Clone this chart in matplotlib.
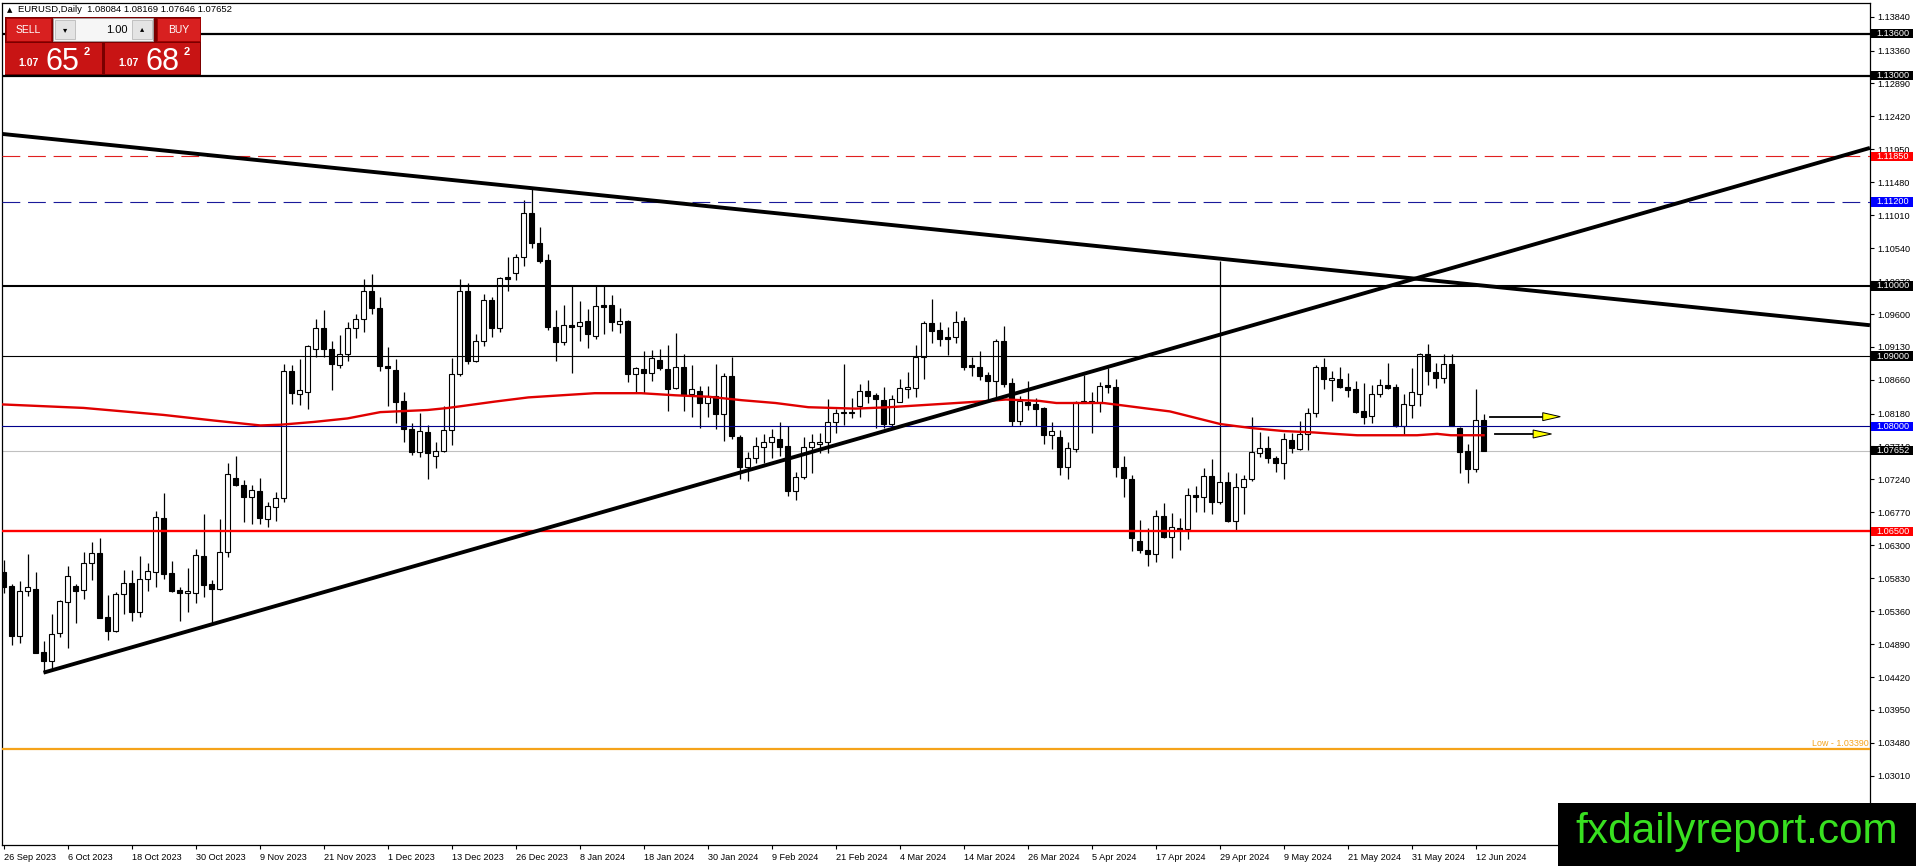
import matplotlib
matplotlib.use("Agg")
import matplotlib.pyplot as plt
import matplotlib.transforms as mtransforms
from matplotlib.patches import Rectangle, Polygon
import numpy as np
import pandas as pd

plt.rcParams['font.family'] = ['Liberation Sans', 'DejaVu Sans']

# 1. Data (EURUSD daily, broker has no Dec 25 / Jan 1 bars)
dates = pd.bdate_range("2023-09-26", "2024-06-13")
dates = dates[~dates.isin(pd.to_datetime(["2023-12-25", "2024-01-01"]))]

opens = [1.05923, 1.05719, 1.05010, 1.05647, 1.05671, 1.04777, 1.04653, 1.05043, 1.05486, 1.05719,
         1.05662, 1.06042, 1.06190, 1.05272, 1.05072, 1.05600, 1.05757, 1.05343, 1.05814, 1.05914,
         1.06684, 1.05900, 1.05662, 1.05614, 1.05624, 1.06147, 1.05742, 1.05671, 1.06208, 1.07255,
         1.07160, 1.06984, 1.07074, 1.06670, 1.06841, 1.06969, 1.08787, 1.08454, 1.08492, 1.09096,
         1.09405, 1.09096, 1.08867, 1.09029, 1.09396, 1.09524, 1.09928, 1.09690, 1.08858, 1.08801,
         1.08359, 1.07959, 1.07626, 1.07920, 1.07574, 1.07645, 1.07945, 1.08739, 1.09928, 1.08934,
         1.09219, 1.09800, 1.09405, 1.10123, 1.10180, 1.10409, 1.11037, 1.10608, 1.10371, 1.09410,
         1.09205, 1.09443, 1.09433, 1.09500, 1.09291, 1.09728, 1.09728, 1.09452, 1.09500, 1.08739,
         1.08810, 1.08753, 1.08944, 1.08815, 1.08539, 1.08839, 1.08458, 1.08501, 1.08325, 1.08435,
         1.08168, 1.08715, 1.07850, 1.07412, 1.07540, 1.07707, 1.07769, 1.07811, 1.07716, 1.07079,
         1.07269, 1.07707, 1.07745, 1.07778, 1.08064, 1.08183, 1.08206, 1.08292, 1.08501, 1.08444,
         1.08372, 1.08025, 1.08349, 1.08534, 1.08548, 1.08981, 1.09476, 1.09371, 1.09267, 1.09267,
         1.09500, 1.08872, 1.08839, 1.08729, 1.08648, 1.09214, 1.08610, 1.08078, 1.08349, 1.08315,
         1.08263, 1.07873, 1.07840, 1.07421, 1.07674, 1.08335, 1.08363, 1.08349, 1.08587, 1.08554,
         1.07412, 1.07245, 1.06360, 1.06232, 1.06170, 1.06717, 1.06422, 1.06541, 1.06532, 1.07017,
         1.06984, 1.07288, 1.06912, 1.07198, 1.06646, 1.07126, 1.07241, 1.07612, 1.07683, 1.07550,
         1.07475, 1.07801, 1.07676, 1.07885, 1.08183, 1.08844, 1.08655, 1.08670, 1.08561, 1.08531,
         1.08213, 1.08139, 1.08457, 1.08586, 1.08561, 1.07999, 1.08298, 1.08462, 1.09033, 1.08770,
         1.08685, 1.08884, 1.07975, 1.07652, 1.07393, 1.08084]
highs = [1.06090, 1.05747, 1.05790, 1.06175, 1.05923, 1.04934, 1.05319, 1.05519, 1.06004, 1.05747,
         1.06199, 1.06342, 1.06399, 1.05590, 1.05628, 1.05947, 1.05947, 1.06147, 1.06042, 1.06789,
         1.07050, 1.06076, 1.05700, 1.05971, 1.06247, 1.06746, 1.05804, 1.06670, 1.07469, 1.07569,
         1.07231, 1.07160, 1.07255, 1.06912, 1.07055, 1.08887, 1.08872, 1.08958, 1.09158, 1.09529,
         1.09657, 1.09219, 1.09300, 1.09491, 1.09595, 1.10099, 1.10171, 1.09838, 1.09134, 1.08953,
         1.08492, 1.08040, 1.08183, 1.08010, 1.07778, 1.08287, 1.08967, 1.10099, 1.10038, 1.09310,
         1.09881, 1.09847, 1.10133, 1.10409, 1.10456, 1.11227, 1.11393, 1.10837, 1.10456, 1.09657,
         1.09728, 1.10004, 1.09785, 1.09667, 1.10004, 1.10004, 1.09871, 1.09690, 1.09515, 1.08848,
         1.09077, 1.09086, 1.09101, 1.09158, 1.09334, 1.09029, 1.08872, 1.08573, 1.08573, 1.08887,
         1.08753, 1.08991, 1.07873, 1.07635, 1.07840, 1.07883, 1.07959, 1.08054, 1.08002, 1.07350,
         1.07850, 1.07883, 1.07907, 1.08382, 1.08240, 1.08887, 1.08406, 1.08601, 1.08658, 1.08468,
         1.08553, 1.08444, 1.08672, 1.08777, 1.09157, 1.09500, 1.09814, 1.09481, 1.09410, 1.09643,
         1.09552, 1.08991, 1.09077, 1.08767, 1.09243, 1.09428, 1.08682, 1.08430, 1.08644, 1.08396,
         1.08278, 1.08063, 1.07944, 1.07778, 1.08359, 1.08730, 1.08492, 1.08634, 1.08825, 1.08668,
         1.07574, 1.07302, 1.06660, 1.06541, 1.06803, 1.06898, 1.06765, 1.06684, 1.07112, 1.07150,
         1.07407, 1.07531, 1.10350, 1.07350, 1.07326, 1.07302, 1.08125, 1.07911, 1.07864, 1.07574,
         1.07900, 1.07900, 1.08074, 1.08258, 1.08879, 1.08968, 1.08785, 1.08844, 1.08760, 1.08645,
         1.08621, 1.08586, 1.08670, 1.08904, 1.08596, 1.08457, 1.08829, 1.09043, 1.09167, 1.08904,
         1.09028, 1.09028, 1.07985, 1.07751, 1.08531, 1.08169]
lows = [1.05624, 1.04877, 1.04910, 1.05581, 1.04758, 1.04482, 1.04530, 1.04996, 1.04829, 1.05195,
        1.05533, 1.05804, 1.05257, 1.04948, 1.05062, 1.05324, 1.05224, 1.05281, 1.05652, 1.05709,
        1.05823, 1.05638, 1.05224, 1.05352, 1.05471, 1.05567, 1.05186, 1.05661, 1.06137, 1.07150,
        1.06636, 1.06598, 1.06598, 1.06565, 1.06646, 1.06922, 1.08316, 1.08301, 1.08244, 1.08982,
        1.08991, 1.08515, 1.08834, 1.08934, 1.09253, 1.09348, 1.09600, 1.08791, 1.08292, 1.08040,
        1.07778, 1.07588, 1.07564, 1.07245, 1.07407, 1.07635, 1.07730, 1.08720, 1.08886, 1.08920,
        1.09148, 1.09276, 1.09348, 1.09933, 1.10085, 1.10285, 1.10547, 1.10323, 1.09372, 1.08934,
        1.09158, 1.08763, 1.09219, 1.09110, 1.09238, 1.09310, 1.09362, 1.09334, 1.08625, 1.08477,
        1.08468, 1.08649, 1.08801, 1.08220, 1.08525, 1.08220, 1.08125, 1.07968, 1.08125, 1.07954,
        1.07792, 1.07811, 1.07241, 1.07222, 1.07478, 1.07478, 1.07540, 1.07574, 1.07003, 1.06946,
        1.07241, 1.07326, 1.07621, 1.07621, 1.07897, 1.08016, 1.08111, 1.08125, 1.08325, 1.07968,
        1.07968, 1.07992, 1.08339, 1.08396, 1.08420, 1.08667, 1.09191, 1.09148, 1.09015, 1.09191,
        1.08801, 1.08715, 1.08658, 1.08349, 1.08396, 1.08553, 1.08006, 1.08016, 1.08230, 1.07997,
        1.07740, 1.07668, 1.07302, 1.07245, 1.07635, 1.08325, 1.07907, 1.08206, 1.08477, 1.07279,
        1.06993, 1.06223, 1.06194, 1.06008, 1.06065, 1.06399, 1.06113, 1.06232, 1.06384, 1.06779,
        1.06779, 1.06746, 1.06889, 1.06627, 1.06508, 1.06741, 1.07222, 1.07555, 1.07478, 1.07350,
        1.07250, 1.07612, 1.07662, 1.07662, 1.08134, 1.08531, 1.08357, 1.08546, 1.08422, 1.08183,
        1.08034, 1.08049, 1.08412, 1.08536, 1.07985, 1.07875, 1.08109, 1.08283, 1.08586, 1.08546,
        1.08621, 1.07999, 1.07329, 1.07195, 1.07344, 1.07646]
closes = [1.05709, 1.05010, 1.05647, 1.05700, 1.04767, 1.04653, 1.05029, 1.05505, 1.05857, 1.05652,
          1.06042, 1.06185, 1.05267, 1.05072, 1.05600, 1.05757, 1.05352, 1.05814, 1.05933, 1.06699,
          1.05895, 1.05652, 1.05614, 1.05647, 1.06156, 1.05738, 1.05671, 1.06199, 1.07312, 1.07160,
          1.06993, 1.07083, 1.06684, 1.06855, 1.06969, 1.08787, 1.08468, 1.08515, 1.09143, 1.09396,
          1.09096, 1.08882, 1.09034, 1.09396, 1.09524, 1.09928, 1.09681, 1.08863, 1.08825, 1.08349,
          1.07959, 1.07626, 1.07930, 1.07620, 1.07645, 1.07945, 1.08744, 1.09928, 1.08934, 1.09219,
          1.09800, 1.09405, 1.10109, 1.10099, 1.10409, 1.11037, 1.10608, 1.10361, 1.09410, 1.09205,
          1.09443, 1.09410, 1.09491, 1.09310, 1.09719, 1.09705, 1.09491, 1.09500, 1.08739, 1.08825,
          1.08753, 1.08967, 1.08825, 1.08525, 1.08839, 1.08444, 1.08525, 1.08325, 1.08435, 1.08168,
          1.08715, 1.07864, 1.07421, 1.07540, 1.07716, 1.07769, 1.07840, 1.07707, 1.07079, 1.07269,
          1.07707, 1.07769, 1.07778, 1.08064, 1.08183, 1.08206, 1.08192, 1.08501, 1.08434, 1.08382,
          1.08030, 1.08387, 1.08539, 1.08553, 1.08981, 1.09476, 1.09362, 1.09243, 1.09248, 1.09481,
          1.08839, 1.08848, 1.08720, 1.08648, 1.09214, 1.08601, 1.08078, 1.08358, 1.08301, 1.08244,
          1.07873, 1.07935, 1.07421, 1.07683, 1.08349, 1.08363, 1.08349, 1.08577, 1.08554, 1.07412,
          1.07255, 1.06399, 1.06232, 1.06170, 1.06717, 1.06422, 1.06556, 1.06518, 1.07017, 1.06984,
          1.07288, 1.06922, 1.07198, 1.06646, 1.07126, 1.07241, 1.07626, 1.07683, 1.07540, 1.07469,
          1.07813, 1.07691, 1.07890, 1.08183, 1.08844, 1.08670, 1.08685, 1.08556, 1.08521, 1.08208,
          1.08134, 1.08457, 1.08586, 1.08551, 1.07999, 1.08313, 1.08481, 1.09033, 1.08780, 1.08685,
          1.08884, 1.08009, 1.07637, 1.07393, 1.08084, 1.07652]

# moving average: (bar index, price)
ma_x = [-0.2, 10, 20, 26.3, 32.1, 34.6, 38.8, 43, 47.1, 53, 55.6, 61.4, 65.6, 69.7, 73.9, 79.7,
        84, 88.1, 92.3, 96.5, 100.6, 106.5, 110.7, 114.9, 119.1, 123.2, 125.3, 127.4, 129.5,
        131.6, 133.2, 137.5, 139.6, 143.7, 145.8, 150, 152.1, 154.1, 156.2, 160, 163.8, 166.3,
        169.2, 172.5, 176.7, 179.2, 180.9, 185]
ma_y = [1.0831, 1.0826, 1.0816, 1.0808, 1.0801, 1.0802, 1.0806, 1.0811, 1.0820, 1.0823, 1.0826,
        1.0835, 1.0841, 1.0844, 1.0847, 1.0847, 1.0844, 1.0842, 1.0837, 1.0833, 1.0827, 1.0825,
        1.0827, 1.0830, 1.0833, 1.0836, 1.0838, 1.0837, 1.0836, 1.0833, 1.0833, 1.0833, 1.0830,
        1.0824, 1.0821, 1.0809, 1.0803, 1.0800, 1.0797, 1.0793, 1.0791, 1.0789, 1.0787, 1.0787,
        1.0787, 1.0789, 1.0787, 1.0787]

# trend lines (bar index, price)
upper_tl_x = [-0.2, 233.3]
upper_tl_y = [1.1217, 1.0944]
lower_tl_x = [5, 233.3]
lower_tl_y = [1.04482, 1.1197]

# horizontal levels
level_prices = [1.13600, 1.13000, 1.11850, 1.11200, 1.10000, 1.09000, 1.08000, 1.07652, 1.06500]
level_colors = ['black', 'black', '#ff0000', '#0000ff', 'black', 'black', '#0000ff', 'black', '#ff0000']
low_price = 1.03390

ytick_vals = [1.13840, 1.13360, 1.12890, 1.12420, 1.11950, 1.11480, 1.11010, 1.10540, 1.10070,
              1.09600, 1.09130, 1.08660, 1.08180, 1.07710, 1.07240, 1.06770, 1.06300, 1.05830,
              1.05360, 1.04890, 1.04420, 1.03950, 1.03480, 1.03010, 1.02540]

label_dates = ["2023-09-26", "2023-10-06", "2023-10-18", "2023-10-30", "2023-11-09", "2023-11-21",
               "2023-12-01", "2023-12-13", "2023-12-26", "2024-01-08", "2024-01-18", "2024-01-30",
               "2024-02-09", "2024-02-21", "2024-03-04", "2024-03-14", "2024-03-26", "2024-04-05",
               "2024-04-17", "2024-04-29", "2024-05-09", "2024-05-21", "2024-05-31", "2024-06-12"]

# arrows drawn right of the last bar: (x start, x end of shaft, tip x, price)
arrows = [(185.8, 192.4, 194.6, 1.08135), (186.4, 191.2, 193.5, 1.07888)]

# 2. Figure / axes in MT4 pixel layout
W, H = 1916, 866
fig = plt.figure(figsize=(W / 100, H / 100), dpi=100)
ax = fig.add_axes([2 / W, 21 / H, 1868 / W, 842 / H])
ax.set_xlim(-0.19, 233.31)
ax.set_ylim(1.02023, 1.14038)
for sp in ax.spines.values():
    sp.set_linewidth(0.9)

# 3. Candles
x = np.arange(len(opens))
o = np.array(opens); hi = np.array(highs); lo = np.array(lows); c = np.array(closes)
ax.vlines(x, lo, hi, color='black', lw=0.9, zorder=3)
body_bot = np.minimum(o, c)
body_h = np.maximum(np.abs(c - o), 0.00002)
body_col = ['white' if cc >= oo else 'black' for oo, cc in zip(o, c)]
ax.bar(x, body_h, bottom=body_bot, width=0.56, color=body_col, edgecolor='black',
       linewidth=0.8, zorder=4)

# 4. Objects
ax.axhline(1.13600, color='black', lw=1.6, zorder=5)
ax.axhline(1.13000, color='black', lw=1.6, zorder=5)
ax.axhline(1.11850, color='#e02020', lw=0.8, ls=(0, (16, 7)), zorder=5)
ax.axhline(1.11200, color='#1a1a9a', lw=0.8, ls=(0, (16, 7)), zorder=5)
ax.axhline(1.10000, color='black', lw=1.5, zorder=5)
ax.axhline(1.09000, color='black', lw=0.8, zorder=5)
ax.axhline(1.08000, color='#00008b', lw=0.8, zorder=5)
ax.axhline(1.07652, color='#c0c0c0', lw=0.8, zorder=2)
ax.axhline(1.06500, color='#ff0000', lw=1.7, zorder=5)
ax.axhline(low_price, color='#f5a31a', lw=1.6, zorder=5)

ax.plot(ma_x, ma_y, color='#e00000', lw=1.7, zorder=6)
ax.plot(upper_tl_x, upper_tl_y, color='black', lw=2.8, zorder=6, solid_capstyle='butt')
ax.plot(lower_tl_x, lower_tl_y, color='black', lw=2.8, zorder=6, solid_capstyle='butt')

tri_h = 0.00057
for x0, x1, tip, p in arrows:
    ax.plot([x0, x1], [p, p], color='black', lw=1.3, zorder=7)
    ax.add_patch(Polygon([[x1, p + tri_h], [x1, p - tri_h], [tip, p]], closed=True,
                         fc='#ffff00', ec='black', lw=0.7, zorder=8))

# 5. Axes ticks
ax.yaxis.tick_right()
ax.set_yticks(ytick_vals)
ax.set_yticklabels([f"{v:.5f}" for v in ytick_vals])
ax.tick_params(axis='y', direction='out', length=3, width=0.8, pad=2.6, labelsize=6.6)

lab_idx = [dates.get_loc(pd.Timestamp(d)) for d in label_dates]
lab_txt = [f"{pd.Timestamp(d).day} {pd.Timestamp(d).strftime('%b %Y')}" for d in label_dates]
ax.set_xticks(lab_idx)
ax.set_xticklabels(lab_txt, ha='left')
ax.tick_params(axis='x', direction='out', length=3, width=0.8, pad=2.5, labelsize=6.6)

blend = mtransforms.blended_transform_factory(ax.transAxes, ax.transData)
bh = 0.00066
for p, col in zip(level_prices, level_colors):
    ax.add_patch(Rectangle((1.0008, p - bh), 0.0222, 2 * bh, transform=blend, clip_on=False,
                           fc=col, ec='none', zorder=9))
    ax.text(1.0035, p, f"{p:.5f}", transform=blend, ha='left', va='center', fontsize=6.6,
            color='white', clip_on=False, zorder=10)

ax.text(0.9995, low_price + 0.00012, f"Low - {low_price:.5f}", transform=blend, ha='right',
        va='bottom', fontsize=6.4, color='#f5a31a', zorder=10)

# 6. Overlay: trade panel and watermark (pixel coords)
ov = fig.add_axes([0, 0, 1, 1], zorder=10)
ov.set_xlim(0, W)
ov.set_ylim(H, 0)
ov.axis('off')
ov.patch.set_alpha(0)

ov.text(7, 10, "\u25b2", fontsize=5, va='center', ha='left', family=['DejaVu Sans'])
ov.text(18, 10, "EURUSD,Daily  1.08084 1.08169 1.07646 1.07652", fontsize=6.8, va='center', ha='left')

ov.add_patch(Rectangle((5, 17), 196, 58, fc='#7a0000', ec='none'))
ov.add_patch(Rectangle((6, 18), 45, 23, fc='#d82020', ec='#a00000', lw=0.6))
ov.text(28.5, 30, "SELL", color='white', fontsize=7.5, ha='center', va='center')
ov.add_patch(Rectangle((53, 18), 100, 23, fc='#f6f6f6', ec='#a0a0a0', lw=0.6))
ov.add_patch(Rectangle((55, 20), 20, 19, fc='#e4e4e4', ec='#b0b0b0', lw=0.5))
ov.add_patch(Rectangle((132, 20), 20, 19, fc='#e4e4e4', ec='#b0b0b0', lw=0.5))
ov.text(65, 30, "\u25be", fontsize=6, ha='center', va='center', family=['DejaVu Sans'])
ov.text(142, 29, "\u25b4", fontsize=6, ha='center', va='center', family=['DejaVu Sans'])
ov.text(128, 30, "1.00", fontsize=8, ha='right', va='center')
ov.add_patch(Rectangle((157, 18), 43, 23, fc='#d82020', ec='#a00000', lw=0.6))
ov.text(178.5, 30, "BUY", color='white', fontsize=7.5, ha='center', va='center')

ov.add_patch(Rectangle((5, 43), 97, 31, fc='#c81414', ec='none'))
ov.add_patch(Rectangle((105, 43), 95, 31, fc='#c81414', ec='none'))
for bx, big in [(0, "65"), (100, "68")]:
    ov.text(18 + bx, 66, "1.07", color='white', fontsize=7.5, fontweight='bold', va='baseline')
    ov.text(46 + bx, 70, big, color='white', fontsize=22, va='baseline')
    ov.text(84 + bx, 55, "2", color='white', fontsize=8, fontweight='bold', va='baseline')

ov.add_patch(Rectangle((1558, 803), 358, 63, fc='black', ec='none'))
ov.text(1737, 843, "fxdailyreport.com", color='#38e020', fontsize=30.5, ha='center', va='baseline')

fig.savefig("out.png", dpi=100)
